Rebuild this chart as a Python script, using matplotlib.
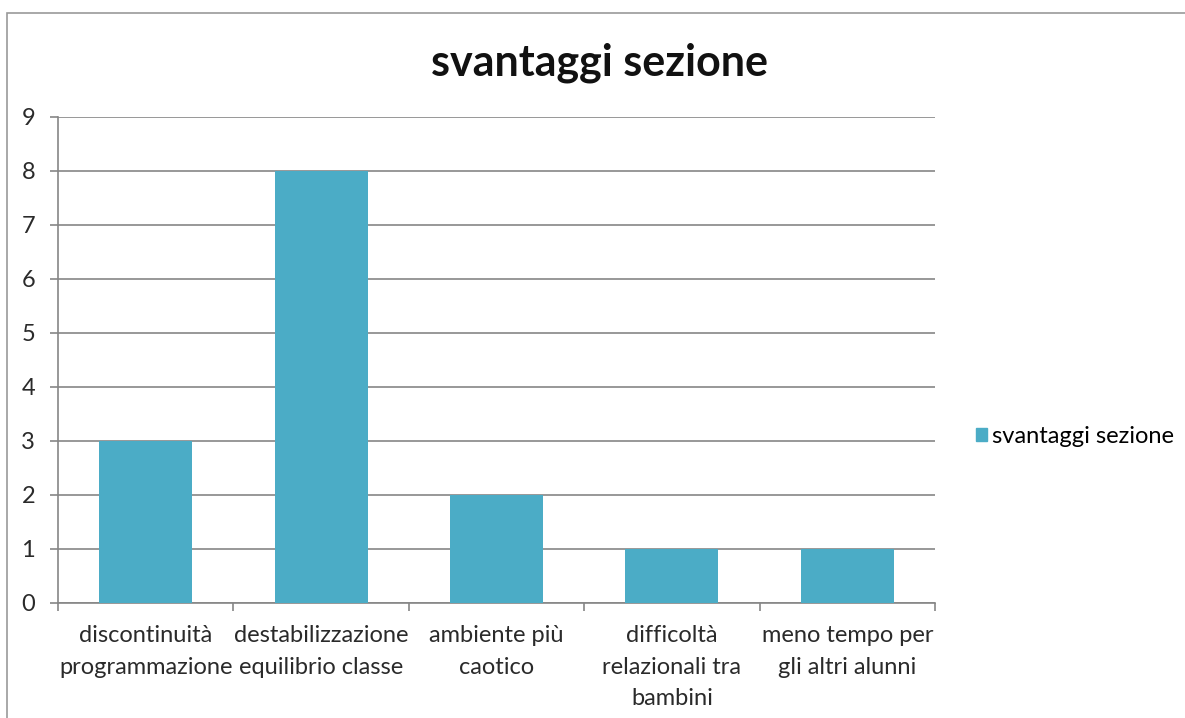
import matplotlib.pyplot as plt
from matplotlib.patches import Rectangle, Patch
import numpy as np

plt.rcParams['font.family'] = ['Lato', 'DejaVu Sans']

# categorie e conteggi
categorie = [
    "discontinuità\nprogrammazione",
    "destabilizzazione\nequilibrio classe",
    "ambiente più\ncaotico",
    "difficoltà\nrelazionali tra\nbambini",
    "meno tempo per\ngli altri alunni",
]
valori = [3, 8, 2, 1, 1]
serie = "svantaggi sezione"

colore_barre = "#4BACC6"
grigio = "#868686"

fig = plt.figure(figsize=(11.85, 7.18), dpi=100)
ax = fig.add_axes([0.0489, 0.1602, 0.7401, 0.677])

x = np.arange(len(categorie))
ax.bar(x, valori, width=0.53, color=colore_barre, zorder=3)

ax.set_xlim(-0.5, len(categorie) - 0.5)
ax.set_ylim(0, 9)
ax.set_yticks(range(0, 10))
ax.yaxis.grid(True, color=grigio, linewidth=1.2, zorder=0)

# tacche sui confini delle categorie, etichette al centro
ax.set_xticks(np.arange(-0.5, len(categorie)), minor=False)
ax.set_xticklabels([])
ax.set_xticks(x, minor=True)
ax.set_xticklabels(categorie, minor=True, fontsize=17, color="#2a2a2a",
                   linespacing=1.62)
ax.tick_params(axis='x', which='minor', length=0, pad=16)
ax.tick_params(axis='x', which='major', length=5.5, color=grigio, width=1.2)
ax.tick_params(axis='y', length=5.5, color=grigio, width=1.2, labelsize=17,
               labelcolor="#2a2a2a", pad=11)

for lato in ("top", "right"):
    ax.spines[lato].set_visible(False)
for lato in ("left", "bottom"):
    ax.spines[lato].set_color(grigio)
    ax.spines[lato].set_linewidth(1.2)

fig.text(0.5063, 0.912, serie, ha="center", va="center", fontsize=31,
         fontweight="bold", color="#111111")

fig.legend(handles=[Patch(color=colore_barre, label=serie)],
           loc="center left", bbox_to_anchor=(0.824, 0.392), frameon=False,
           fontsize=17, handlelength=0.45, handleheight=0.45,
           handletextpad=0.2, borderpad=0, borderaxespad=0)

# cornice esterna
fig.patches.append(Rectangle((0.006, -0.02), 1.1, 1.002,
                             transform=fig.transFigure, fill=False,
                             edgecolor="#9a9a9a", linewidth=1.2))

fig.savefig("out.png", dpi=100)
